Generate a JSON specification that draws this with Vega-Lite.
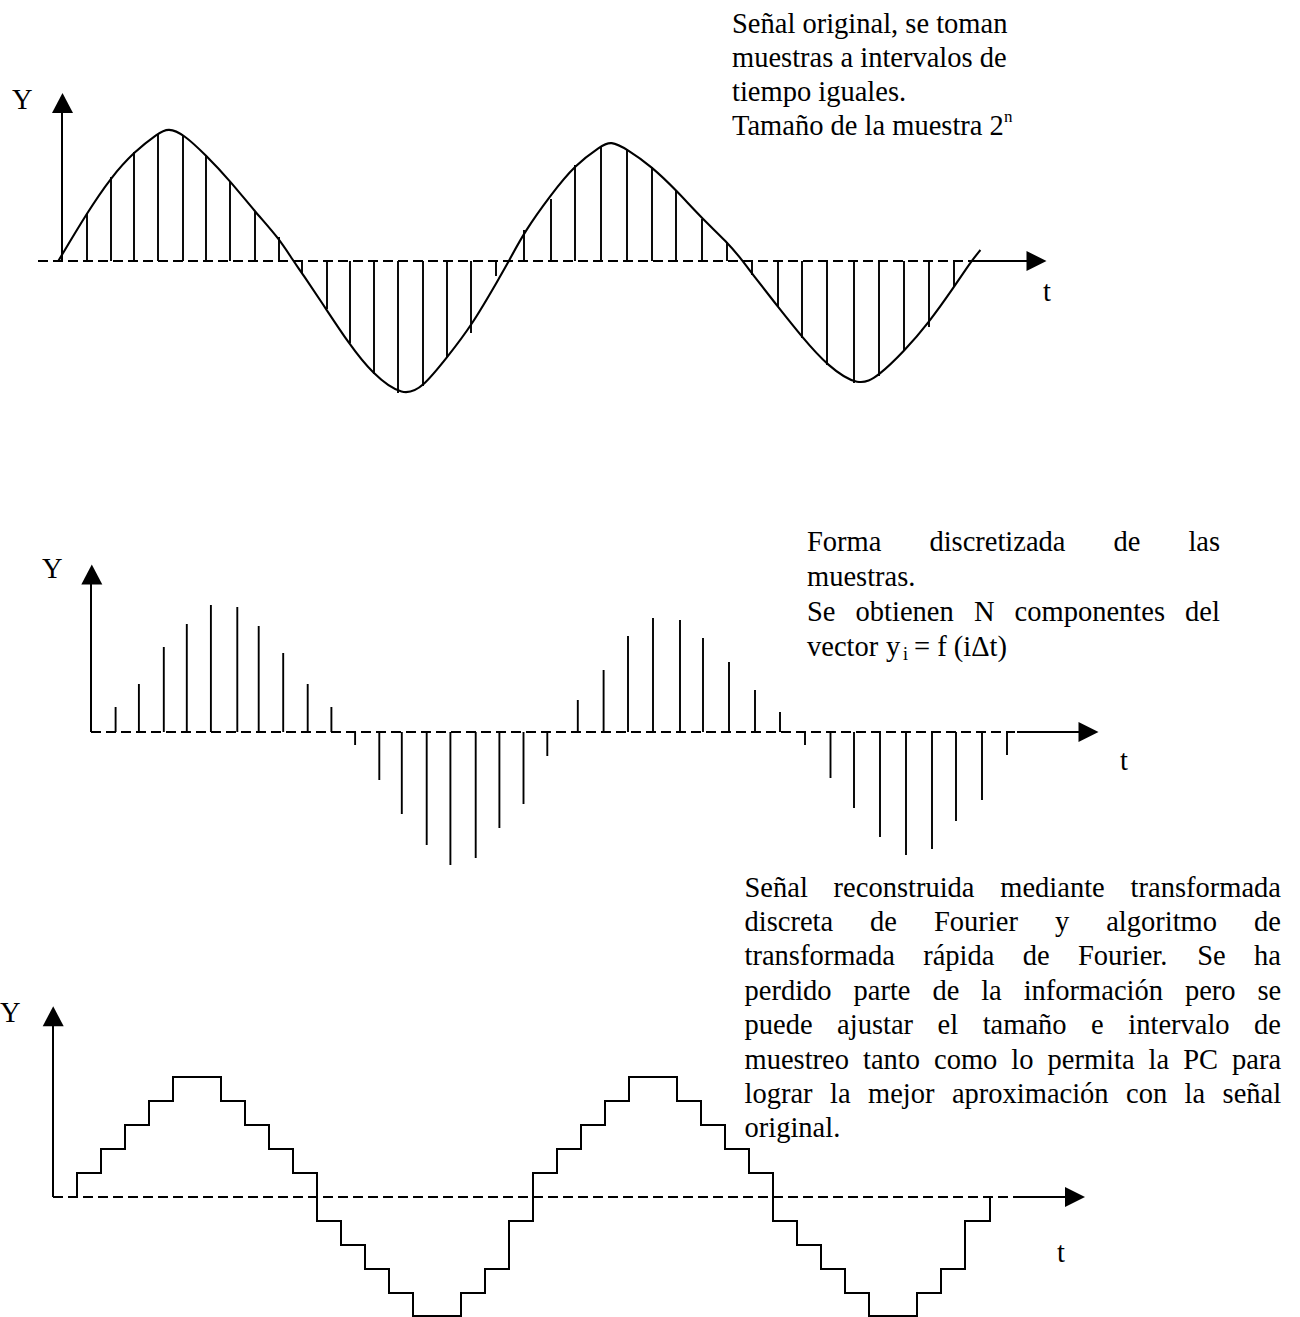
{
  "$schema": "https://vega.github.io/schema/vega-lite/v6.json",
  "background": "white",
  "padding": 0,
  "spacing": 0,
  "bounds": "flush",
  "config": {"view": {"stroke": null}},
  "datasets": {
    "p1curve": [
      {"t": -3.7, "v": 0}, {"t": 24.7, "v": 47.7}, {"t": 49, "v": 83.7}, {"t": 72.3, "v": 109.3}, {"t": 96.3, "v": 128}, {"t": 106.3, "v": 133}, {"t": 121.3, "v": 127}, {"t": 143.7, "v": 106}, {"t": 168, "v": 80.3}, {"t": 193, "v": 49.3}, {"t": 217, "v": 22.7}, {"t": 231.3, "v": 0}, {"t": 240.3, "v": -12.3}, {"t": 264.7, "v": -49}, {"t": 286.3, "v": -81.7}, {"t": 310.3, "v": -113}, {"t": 341.3, "v": -136}, {"t": 361.3, "v": -126}, {"t": 384.7, "v": -96.7}, {"t": 409, "v": -65.7}, {"t": 438, "v": -15.7}, {"t": 447, "v": 0}, {"t": 462.3, "v": 29}, {"t": 488.7, "v": 66}, {"t": 513, "v": 96}, {"t": 539, "v": 115}, {"t": 548.7, "v": 120}, {"t": 564.8, "v": 112}, {"t": 589.8, "v": 94.3}, {"t": 614, "v": 71}, {"t": 639.8, "v": 42.7}, {"t": 664.8, "v": 19.3}, {"t": 680.9, "v": 0}, {"t": 689.8, "v": -12.3}, {"t": 715.9, "v": -45.7}, {"t": 739.8, "v": -75.7}, {"t": 765.5, "v": -105}, {"t": 796.9, "v": -126}, {"t": 816.6, "v": -115}, {"t": 842.3, "v": -90}, {"t": 866.6, "v": -62}, {"t": 892.3, "v": -25.7}, {"t": 909.4, "v": 0}, {"t": 918.4, "v": 11}
    ],
    "p1stems": [
      {"t": 25, "v": 48}, {"t": 49, "v": 84}, {"t": 72, "v": 109}, {"t": 96, "v": 127}, {"t": 121, "v": 125}, {"t": 144, "v": 106}, {"t": 168, "v": 79}, {"t": 193, "v": 49}, {"t": 217, "v": 24}, {"t": 240, "v": -13}, {"t": 265, "v": -48}, {"t": 288, "v": -82}, {"t": 312, "v": -113}, {"t": 336, "v": -132}, {"t": 361, "v": -125}, {"t": 385, "v": -96}, {"t": 409, "v": -72}, {"t": 434, "v": -15}, {"t": 462, "v": 31}, {"t": 489, "v": 62}, {"t": 513, "v": 96}, {"t": 539, "v": 114}, {"t": 565, "v": 111}, {"t": 590, "v": 94}, {"t": 614, "v": 71}, {"t": 640, "v": 42}, {"t": 665, "v": 19}, {"t": 690, "v": -14}, {"t": 716, "v": -46}, {"t": 740, "v": -77}, {"t": 765, "v": -104}, {"t": 792, "v": -122}, {"t": 817, "v": -115}, {"t": 842, "v": -89}, {"t": 867, "v": -66}, {"t": 892, "v": -26}
    ],
    "p1text": [
      {"t": -50, "v": 151.7, "w": "Y"},
      {"t": 981, "v": -40, "w": "t"},
      {"t": 670, "v": 227.7, "w": "Señal original, se toman"},
      {"t": 670, "v": 193.8, "w": "muestras a intervalos de"},
      {"t": 670, "v": 159.9, "w": "tiempo iguales."},
      {"t": 670, "v": 126, "w": "Tamaño de la muestra 2"}
    ],
    "p2stems": [
      {"t": 24.6, "v": 25}, {"t": 47.9, "v": 48}, {"t": 72.8, "v": 85}, {"t": 95.8, "v": 108}, {"t": 119.9, "v": 127}, {"t": 146.3, "v": 125}, {"t": 167.7, "v": 106}, {"t": 192.2, "v": 79}, {"t": 216.7, "v": 48}, {"t": 240.4, "v": 25}, {"t": 264.1, "v": -13}, {"t": 288.3, "v": -48}, {"t": 310.8, "v": -82}, {"t": 335.7, "v": -113}, {"t": 359.4, "v": -133}, {"t": 384.7, "v": -126}, {"t": 408.4, "v": -96}, {"t": 432.5, "v": -72}, {"t": 456.3, "v": -24}, {"t": 486.8, "v": 32}, {"t": 512.6, "v": 62}, {"t": 537, "v": 96}, {"t": 562, "v": 114}, {"t": 589, "v": 112}, {"t": 612, "v": 94}, {"t": 638, "v": 70}, {"t": 664, "v": 42}, {"t": 689, "v": 20}, {"t": 714, "v": -13}, {"t": 739.5, "v": -46}, {"t": 763, "v": -76}, {"t": 789, "v": -105}, {"t": 815, "v": -123}, {"t": 841, "v": -117}, {"t": 865, "v": -89}, {"t": 891, "v": -68}, {"t": 916, "v": -23}
    ],
    "p2text": [
      {"t": -49, "v": 153.7, "w": "Y"},
      {"t": 1029, "v": -38, "w": "t"},
      {"t": 716, "v": 181, "w": "Forma"}, {"t": 838.4, "v": 181, "w": "discretizada"}, {"t": 1022.5, "v": 181, "w": "de"}, {"t": 1097.4, "v": 181, "w": "las"},
      {"t": 716, "v": 146, "w": "muestras."},
      {"t": 716, "v": 111, "w": "Se"}, {"t": 764.6, "v": 111, "w": "obtienen"}, {"t": 882.9, "v": 111, "w": "N"}, {"t": 923.6, "v": 111, "w": "componentes"}, {"t": 1094.1, "v": 111, "w": "del"},
      {"t": 716, "v": 76, "w": "vector"}, {"t": 795, "v": 76, "w": "y"}, {"t": 823, "v": 76, "w": "= f (iΔt)"}
    ],
    "p3steps": [
      {"i": 0, "t": 24, "v": 0}, {"i": 1, "t": 24, "v": 24}, {"i": 2, "t": 48, "v": 48}, {"i": 3, "t": 72, "v": 72}, {"i": 4, "t": 96, "v": 96}, {"i": 5, "t": 120, "v": 120}, {"i": 6, "t": 168, "v": 96}, {"i": 7, "t": 192, "v": 72}, {"i": 8, "t": 216, "v": 48}, {"i": 9, "t": 240, "v": 24}, {"i": 10, "t": 264, "v": -24}, {"i": 11, "t": 288, "v": -48}, {"i": 12, "t": 312, "v": -72}, {"i": 13, "t": 336, "v": -96}, {"i": 14, "t": 360, "v": -119}, {"i": 15, "t": 408, "v": -96}, {"i": 16, "t": 432, "v": -72}, {"i": 17, "t": 456, "v": -24}, {"i": 18, "t": 480, "v": 24}, {"i": 19, "t": 504, "v": 48}, {"i": 20, "t": 528, "v": 72}, {"i": 21, "t": 552, "v": 96}, {"i": 22, "t": 576, "v": 120}, {"i": 23, "t": 624, "v": 96}, {"i": 24, "t": 648, "v": 72}, {"i": 25, "t": 672, "v": 48}, {"i": 26, "t": 696, "v": 24}, {"i": 27, "t": 720, "v": -24}, {"i": 28, "t": 744, "v": -48}, {"i": 29, "t": 768, "v": -72}, {"i": 30, "t": 792, "v": -96}, {"i": 31, "t": 816, "v": -119}, {"i": 32, "t": 864, "v": -96}, {"i": 33, "t": 888, "v": -72}, {"i": 34, "t": 912, "v": -24}, {"i": 35, "t": 937, "v": 0}
    ],
    "p3text": [
      {"t": -53, "v": 175.3, "w": "Y"},
      {"t": 1004, "v": -64.7, "w": "t"},
      {"t": 691.5, "v": 300.5, "w": "Señal"}, {"t": 780.6, "v": 300.5, "w": "reconstruida"}, {"t": 947.3, "v": 300.5, "w": "mediante"}, {"t": 1077.6, "v": 300.5, "w": "transformada"},
      {"t": 691.5, "v": 266.1, "w": "discreta"}, {"t": 817.1, "v": 266.1, "w": "de"}, {"t": 881, "v": 266.1, "w": "Fourier"}, {"t": 1001.9, "v": 266.1, "w": "y"}, {"t": 1053.2, "v": 266.1, "w": "algoritmo"}, {"t": 1201, "v": 266.1, "w": "de"},
      {"t": 691.5, "v": 231.7, "w": "transformada"}, {"t": 870.2, "v": 231.7, "w": "rápida"}, {"t": 969.7, "v": 231.7, "w": "de"}, {"t": 1024.9, "v": 231.7, "w": "Fourier."}, {"t": 1144.2, "v": 231.7, "w": "Se"}, {"t": 1201, "v": 231.7, "w": "ha"},
      {"t": 691.5, "v": 197.3, "w": "perdido"}, {"t": 800.5, "v": 197.3, "w": "parte"}, {"t": 879.4, "v": 197.3, "w": "de"}, {"t": 928.2, "v": 197.3, "w": "la"}, {"t": 970.7, "v": 197.3, "w": "información"}, {"t": 1131.9, "v": 197.3, "w": "pero"}, {"t": 1204.4, "v": 197.3, "w": "se"},
      {"t": 691.5, "v": 162.9, "w": "puede"}, {"t": 784.1, "v": 162.9, "w": "ajustar"}, {"t": 884.6, "v": 162.9, "w": "el"}, {"t": 929.7, "v": 162.9, "w": "tamaño"}, {"t": 1038.1, "v": 162.9, "w": "e"}, {"t": 1075.3, "v": 162.9, "w": "intervalo"}, {"t": 1201.1, "v": 162.9, "w": "de"},
      {"t": 691.5, "v": 128.5, "w": "muestreo"}, {"t": 810, "v": 128.5, "w": "tanto"}, {"t": 881, "v": 128.5, "w": "como"}, {"t": 958.3, "v": 128.5, "w": "lo"}, {"t": 994.5, "v": 128.5, "w": "permita"}, {"t": 1095.6, "v": 128.5, "w": "la"}, {"t": 1130.2, "v": 128.5, "w": "PC"}, {"t": 1179.1, "v": 128.5, "w": "para"},
      {"t": 691.5, "v": 94.1, "w": "lograr"}, {"t": 777, "v": 94.1, "w": "la"}, {"t": 815, "v": 94.1, "w": "mejor"}, {"t": 898.9, "v": 94.1, "w": "aproximación"}, {"t": 1073, "v": 94.1, "w": "con"}, {"t": 1131.6, "v": 94.1, "w": "la"}, {"t": 1169.6, "v": 94.1, "w": "señal"},
      {"t": 691.5, "v": 59.7, "w": "original."}
    ]
  },
  "vconcat": [
    {
      "width": 1300,
      "height": 440,
      "encoding": {
        "x": {"field": "t", "type": "quantitative", "scale": {"domain": [-62, 1238], "nice": false, "zero": false}, "axis": null},
        "y": {"field": "v", "type": "quantitative", "scale": {"domain": [-179, 261], "nice": false, "zero": false}, "axis": null}
      },
      "layer": [
        {"data": {"values": [{"t": -24, "t2": 910, "v": 0}]}, "mark": {"type": "rule", "strokeDash": [10, 5], "strokeWidth": 2, "color": "black"}, "encoding": {"x2": {"field": "t2"}}},
        {"data": {"values": [{"t": 910, "t2": 968, "v": 0}]}, "mark": {"type": "rule", "strokeWidth": 2, "color": "black"}, "encoding": {"x2": {"field": "t2"}}},
        {"data": {"values": [{"t": 0, "v": 0, "v2": 150}]}, "mark": {"type": "rule", "strokeWidth": 2, "color": "black"}, "encoding": {"y2": {"field": "v2"}}},
        {"data": {"values": [{"t": 974.5, "v": 0}]}, "mark": {"type": "point", "shape": "M1,0L-1,-1L-1,1Z", "size": 400, "filled": true, "opacity": 1, "color": "black", "strokeWidth": 0}, "encoding": {}},
        {"data": {"values": [{"t": 0.5, "v": 158}]}, "mark": {"type": "point", "shape": "M0,-1L1.05,1L-1.05,1Z", "size": 400, "filled": true, "opacity": 1, "color": "black", "strokeWidth": 0}, "encoding": {}},
        {"data": {"name": "p1stems"}, "mark": {"type": "rule", "strokeWidth": 1.9, "color": "black"}, "encoding": {"y2": {"datum": 0}}},
        {"data": {"name": "p1curve"}, "mark": {"type": "line", "interpolate": "basis", "strokeWidth": 2.1, "color": "black"}, "encoding": {}},
        {"data": {"name": "p1text"}, "mark": {"type": "text", "align": "left", "baseline": "alphabetic", "font": "Liberation Serif", "fontSize": 28.5, "color": "black"}, "encoding": {"text": {"field": "w"}}},
        {"data": {"values": [{"t": 942, "v": 139, "w": "n"}]}, "mark": {"type": "text", "align": "left", "baseline": "alphabetic", "font": "Liberation Serif", "fontSize": 17, "color": "black"}, "encoding": {"text": {"field": "w"}}}
      ]
    },
    {
      "width": 1300,
      "height": 430,
      "encoding": {
        "x": {"field": "t", "type": "quantitative", "scale": {"domain": [-91, 1209], "nice": false, "zero": false}, "axis": null},
        "y": {"field": "v", "type": "quantitative", "scale": {"domain": [-138, 292], "nice": false, "zero": false}, "axis": null}
      },
      "layer": [
        {"data": {"values": [{"t": 0, "t2": 924, "v": 0}]}, "mark": {"type": "rule", "strokeDash": [10, 5], "strokeWidth": 2, "color": "black"}, "encoding": {"x2": {"field": "t2"}}},
        {"data": {"values": [{"t": 926, "t2": 990, "v": 0}]}, "mark": {"type": "rule", "strokeWidth": 2, "color": "black"}, "encoding": {"x2": {"field": "t2"}}},
        {"data": {"values": [{"t": 0, "v": 0, "v2": 150}]}, "mark": {"type": "rule", "strokeWidth": 2, "color": "black"}, "encoding": {"y2": {"field": "v2"}}},
        {"data": {"values": [{"t": 997.5, "v": 0}]}, "mark": {"type": "point", "shape": "M1,0L-1,-1L-1,1Z", "size": 400, "filled": true, "opacity": 1, "color": "black", "strokeWidth": 0}, "encoding": {}},
        {"data": {"values": [{"t": 0.8, "v": 157.5}]}, "mark": {"type": "point", "shape": "M0,-1L1.05,1L-1.05,1Z", "size": 400, "filled": true, "opacity": 1, "color": "black", "strokeWidth": 0}, "encoding": {}},
        {"data": {"name": "p2stems"}, "mark": {"type": "rule", "strokeWidth": 1.9, "color": "black"}, "encoding": {"y2": {"datum": 0}}},
        {"data": {"name": "p2text"}, "mark": {"type": "text", "align": "left", "baseline": "alphabetic", "font": "Liberation Serif", "fontSize": 28.5, "color": "black"}, "encoding": {"text": {"field": "w"}}},
        {"data": {"values": [{"t": 812, "v": 72, "w": "i"}]}, "mark": {"type": "text", "align": "left", "baseline": "alphabetic", "font": "Liberation Serif", "fontSize": 18, "color": "black"}, "encoding": {"text": {"field": "w"}}}
      ]
    },
    {
      "width": 1300,
      "height": 447,
      "encoding": {
        "x": {"field": "t", "type": "quantitative", "scale": {"domain": [-53, 1247], "nice": false, "zero": false}, "axis": null},
        "y": {"field": "v", "type": "quantitative", "scale": {"domain": [-120, 327], "nice": false, "zero": false}, "axis": null}
      },
      "layer": [
        {"data": {"values": [{"t": 0, "t2": 960, "v": 0}]}, "mark": {"type": "rule", "strokeDash": [10, 5], "strokeWidth": 2, "color": "black"}, "encoding": {"x2": {"field": "t2"}}},
        {"data": {"values": [{"t": 960, "t2": 1013, "v": 0}]}, "mark": {"type": "rule", "strokeWidth": 2, "color": "black"}, "encoding": {"x2": {"field": "t2"}}},
        {"data": {"values": [{"t": 0, "v": 0, "v2": 173}]}, "mark": {"type": "rule", "strokeWidth": 2, "color": "black"}, "encoding": {"y2": {"field": "v2"}}},
        {"data": {"values": [{"t": 1022, "v": 0}]}, "mark": {"type": "point", "shape": "M1,0L-1,-1L-1,1Z", "size": 400, "filled": true, "opacity": 1, "color": "black", "strokeWidth": 0}, "encoding": {}},
        {"data": {"values": [{"t": 0.2, "v": 180.7}]}, "mark": {"type": "point", "shape": "M0,-1L1.05,1L-1.05,1Z", "size": 400, "filled": true, "opacity": 1, "color": "black", "strokeWidth": 0}, "encoding": {}},
        {"data": {"name": "p3steps"}, "mark": {"type": "line", "interpolate": "step-after", "strokeWidth": 2, "color": "black"}, "encoding": {"order": {"field": "i", "type": "quantitative"}}},
        {"data": {"name": "p3text"}, "mark": {"type": "text", "align": "left", "baseline": "alphabetic", "font": "Liberation Serif", "fontSize": 28.5, "color": "black"}, "encoding": {"text": {"field": "w"}}}
      ]
    }
  ]
}
